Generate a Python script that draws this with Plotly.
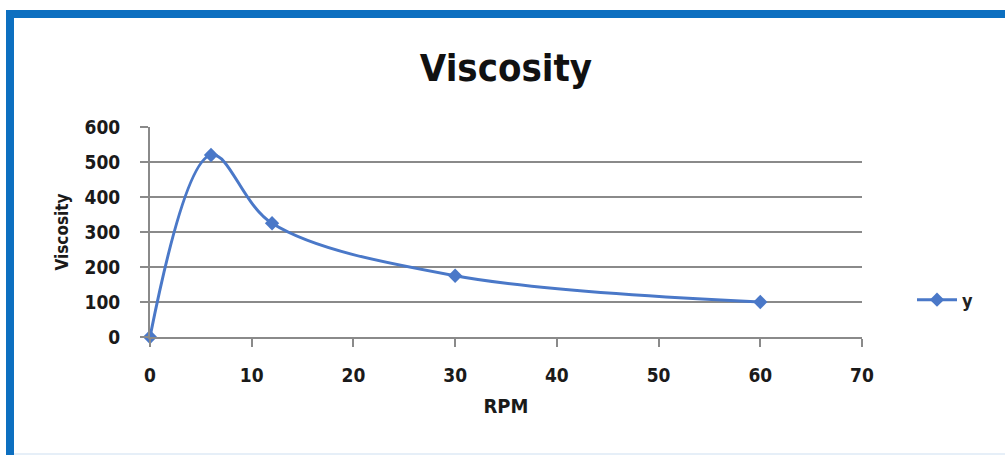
import plotly.graph_objects as go

rpm = [0, 6, 12, 30, 60]
viscosity = [0, 520, 325, 175, 100]
x_ticks = [0, 10, 20, 30, 40, 50, 60, 70]
y_ticks = [0, 100, 200, 300, 400, 500, 600]

W, H = 1005, 455
L, R, T, B = 150, 143, 127, 118
pw, ph = W - L - R, H - T - B


def px(x):
    return (x - L) / pw


def py(y):
    return (H - B - y) / ph


BLUE = "#4a78c8"
BORDER = "#0d6fc0"
GRID = "#8a8a8a"
FONT = "DejaVu Sans Condensed, DejaVu Sans, sans-serif"

fig = go.Figure()
fig.add_trace(go.Scatter(
    x=rpm, y=viscosity, name="y", mode="lines+markers",
    line=dict(color=BLUE, width=3, shape="spline", smoothing=1),
    marker=dict(symbol="diamond", size=11, color=BLUE),
    cliponaxis=False,
))

fig.update_layout(
    width=W, height=H,
    margin=dict(l=L, r=R, t=T, b=B, autoexpand=False),
    paper_bgcolor="white", plot_bgcolor="white",
    font=dict(family=FONT, color="#1a1a1a"),
    title=dict(text="Viscosity", x=0.5, xanchor="center", xref="paper",
               y=1 - 68 / H, yanchor="middle",
               font=dict(size=38, family=FONT, color="#111", weight="bold")),
    showlegend=True,
    legend=dict(x=px(912), y=py(300), xanchor="left", yanchor="middle",
                font=dict(size=18, family=FONT, color="#222", weight="bold"),
                bgcolor="rgba(0,0,0,0)", itemwidth=40),
    shapes=[
        dict(type="rect", xref="paper", yref="paper",
             x0=px(6), x1=px(1010), y0=py(18), y1=py(10),
             fillcolor=BORDER, line=dict(width=0), layer="above"),
        dict(type="rect", xref="paper", yref="paper",
             x0=px(6), x1=px(14), y0=py(460), y1=py(10),
             fillcolor=BORDER, line=dict(width=0), layer="above"),
        dict(type="rect", xref="paper", yref="paper",
             x0=px(14), x1=px(1010), y0=py(455), y1=py(453),
             fillcolor="#e6eff8", line=dict(width=0), layer="above"),
    ],
)

fig.update_xaxes(
    range=[0, 70], tickvals=x_ticks, ticktext=[str(v) for v in x_ticks],
    showgrid=False, zeroline=False,
    showline=True, linecolor=GRID, linewidth=2,
    ticks="outside", ticklen=8, tickcolor=GRID, tickwidth=2,
    ticklabelstandoff=12,
    tickfont=dict(size=19, family=FONT, color="#1a1a1a", weight="bold"),
    title=dict(text="RPM", standoff=14,
               font=dict(size=20, family=FONT, color="#1a1a1a", weight="bold")),
    automargin=False,
)
fig.update_yaxes(
    range=[0, 600], tickvals=y_ticks, ticktext=[str(v) for v in y_ticks],
    showgrid=True, gridcolor=GRID, gridwidth=2, zeroline=False,
    showline=True, linecolor=GRID, linewidth=2,
    ticks="outside", ticklen=8, tickcolor=GRID, tickwidth=2,
    ticklabelstandoff=16,
    tickfont=dict(size=19, family=FONT, color="#1a1a1a", weight="bold"),
    title=dict(text="Viscosity", standoff=12,
               font=dict(size=17, family=FONT, color="#1a1a1a", weight="bold")),
    automargin=False,
)

fig.write_html("out.html")
